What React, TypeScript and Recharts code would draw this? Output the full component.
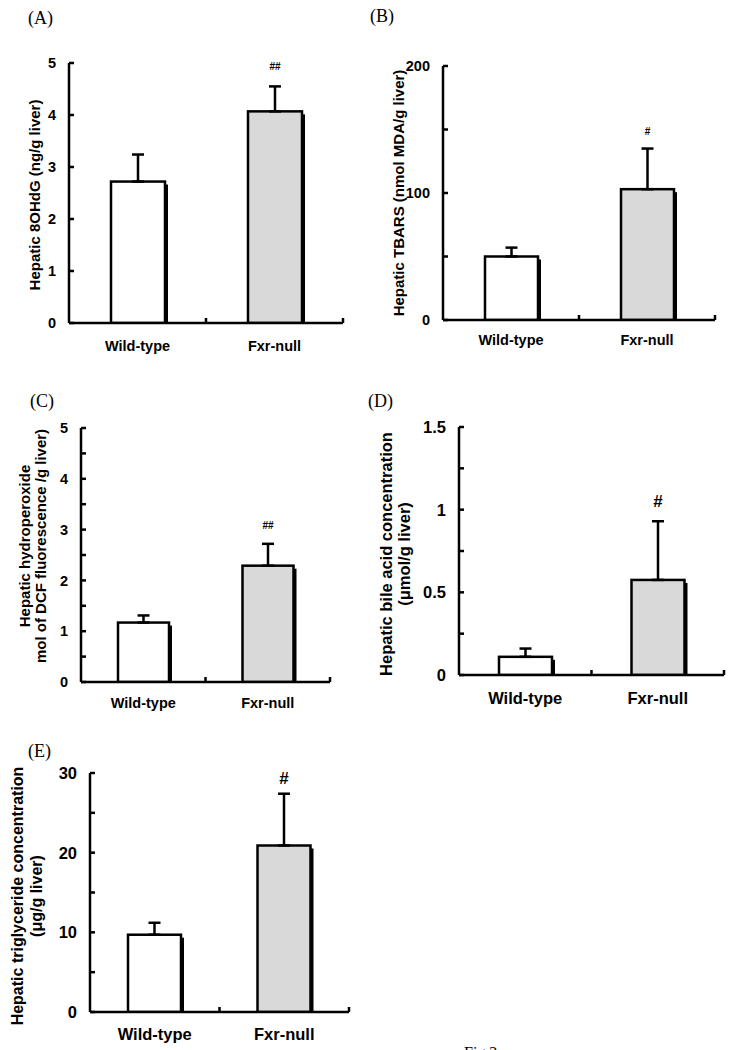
import React from "react";
import { Bar, BarChart, Cell, ErrorBar, LabelList, XAxis, YAxis } from "recharts";

const groups = ["Wild-type", "Fxr-null"];

// (A) hepatic 8OHdG
const ohdgMean = [2.72, 4.07];
const ohdgErr = [0.52, 0.48];
const ohdgSig = ["", "##"];
const ohdgTicks = [0, 1, 2, 3, 4, 5];
const ohdgLabels = [0, 1, 2, 3, 4, 5];

// (B) hepatic TBARS
const tbarsMean = [50, 103];
const tbarsErr = [7, 32];
const tbarsSig = ["", "#"];
const tbarsTicks = [0, 50, 100, 150, 200];
const tbarsLabels = [0, 100, 200];

// (C) hepatic hydroperoxide
const hydroMean = [1.17, 2.29];
const hydroErr = [0.14, 0.43];
const hydroSig = ["", "##"];
const hydroTicks = [0, 0.5, 1, 1.5, 2, 2.5, 3, 3.5, 4, 4.5, 5];
const hydroLabels = [0, 1, 2, 3, 4, 5];

// (D) hepatic bile acid
const bileMean = [0.11, 0.575];
const bileErr = [0.05, 0.355];
const bileSig = ["", "#"];
const bileTicks = [0, 0.25, 0.5, 0.75, 1, 1.25, 1.5];
const bileLabels = [0, 0.5, 1, 1.5];

// (E) hepatic triglyceride
const tgMean = [9.7, 20.9];
const tgErr = [1.5, 6.5];
const tgSig = ["", "#"];
const tgTicks = [0, 5, 10, 15, 20, 25, 30];
const tgLabels = [0, 10, 20, 30];

// right edge of each group on the x axis (tick marks between / after the bars)
const groupEdges = [1, 2];

const barFills = ["#ffffff", "#d9d9d9"];
const SANS = "'Liberation Sans', Arial, sans-serif";
const SERIF = "'Liberation Serif', 'Times New Roman', serif";
const axisStroke = { stroke: "#000", strokeWidth: 2.5 };

const ShadowBar = (props: any) => {
  const { x, y, width, height, fill } = props;
  if (!height) return null;
  return (
    <g>
      <rect x={x + 3} y={y + 3} width={width} height={Math.max(height - 3, 0)} fill="#000" />
      <rect x={x} y={y} width={width} height={height} fill={fill} stroke="#000" strokeWidth={2.5} />
    </g>
  );
};

type PanelProps = {
  mean: number[];
  err: number[];
  sig: string[];
  ticks: number[];
  labels: number[];
  colX: number;
  left: number;
  top: number;
  bottom: number;
  right: number;
  barSize: number;
  fs: number;
  xDy: number;
  sigFs: number;
  sigGap: number;
};

function Panel(p: PanelProps) {
  const rows = groups.map((g, i) => ({ group: g, edge: groupEdges[i], mean: p.mean[i], err: [0, p.err[i]] }));
  const mt = 40;
  const mr = 8;
  const xh = 45;
  const cy = p.top - mt;
  const cw = p.right - p.colX + mr;
  const ch = p.bottom - cy + xh;

  // mirrored y axis: t.x sits 5px inside the plot, labels go back outside
  const yTick = (t: any) =>
    p.labels.includes(t.payload.value) ? (
      <text x={t.x - 18} y={t.y} dy="0.36em" textAnchor="end" fontFamily={SANS} fontWeight="bold" fontSize={p.fs} fill="#000">
        {t.payload.value}
      </text>
    ) : (
      <g />
    );

  const xTick = (t: any) => (
    <text x={t.x} y={t.y} textAnchor="middle" fontFamily={SANS} fontWeight="bold" fontSize={p.fs} fill="#000">
      {t.payload.value}
    </text>
  );

  const sigLabel = (l: any) => {
    const vb = l.viewBox ?? l;
    const i = typeof l.index === "number" ? l.index : p.mean.indexOf(Number(l.value));
    if (i < 0 || !p.sig[i]) return null;
    const perUnit = vb.height / p.mean[i];
    const errTop = vb.y - p.err[i] * perUnit;
    return (
      <text x={vb.x + vb.width / 2} y={errTop - p.sigGap} textAnchor="middle" fontFamily={SANS} fontWeight="bold" fontSize={p.sigFs} fill="#000">
        {p.sig[i]}
      </text>
    );
  };

  return (
    <div style={{ position: "absolute", left: p.colX, top: cy }}>
      <BarChart width={cw} height={ch} data={rows} margin={{ top: mt, right: mr, left: p.left - p.colX, bottom: 0 }}>
        <XAxis
          xAxisId="edge"
          dataKey="edge"
          type="number"
          domain={[0, 2]}
          ticks={groupEdges}
          interval={0}
          mirror
          height={5}
          axisLine={false}
          tickLine={axisStroke}
          tickSize={5}
          tickMargin={0}
          tick={() => <g />}
          allowDataOverflow
        />
        <XAxis
          xAxisId="cat"
          dataKey="group"
          height={xh}
          axisLine={axisStroke}
          tickLine={false}
          tickSize={0}
          tickMargin={p.xDy}
          tick={xTick}
          interval={0}
        />
        <YAxis
          mirror
          width={10}
          domain={[0, p.ticks[p.ticks.length - 1]]}
          ticks={p.ticks}
          interval={0}
          axisLine={axisStroke}
          tickLine={axisStroke}
          tickSize={5}
          tickMargin={0}
          tick={yTick}
          allowDataOverflow
        />
        <Bar xAxisId="cat" dataKey="mean" barSize={p.barSize} shape={ShadowBar} isAnimationActive={false}>
          {rows.map((r, i) => (
            <Cell key={r.group} fill={barFills[i]} />
          ))}
          <ErrorBar dataKey="err" direction="y" width={6} strokeWidth={2.5} stroke="#000" />
          <LabelList dataKey="mean" content={sigLabel} />
        </Bar>
      </BarChart>
    </div>
  );
}

const letters = [
  { t: "(A)", x: 28, y: 23.5 },
  { t: "(B)", x: 370, y: 22 },
  { t: "(C)", x: 30, y: 407 },
  { t: "(D)", x: 368, y: 407 },
  { t: "(E)", x: 28, y: 757 },
];

const titles = [
  { lines: ["Hepatic 8OHdG (ng/g liver)"], xs: [35], y: 195, fs: 15 },
  { lines: ["Hepatic TBARS (nmol MDA/g liver)"], xs: [399], y: 193, fs: 15 },
  { lines: ["Hepatic hydroperoxide", "mol of DCF fluorescence /g liver)"], xs: [25.5, 41.5], y: 546, fs: 15 },
  { lines: ["Hepatic bile acid concentration", "(μmol/g liver)"], xs: [387, 405], y: 554, fs: 16.5 },
  { lines: ["Hepatic triglyceride concentration", "(μg/g liver)"], xs: [18.5, 37], y: 896, fs: 16 },
];

export default function App() {
  return (
    <div style={{ position: "absolute", left: 0, top: 0, width: 734, height: 1050, overflow: "hidden", background: "#fff" }}>
      <Panel mean={ohdgMean} err={ohdgErr} sig={ohdgSig} ticks={ohdgTicks} labels={ohdgLabels}
        colX={0} left={69} top={63} bottom={323} right={343} barSize={54} fs={14.5} xDy={28} sigFs={10} sigGap={16} />
      <Panel mean={tbarsMean} err={tbarsErr} sig={tbarsSig} ticks={tbarsTicks} labels={tbarsLabels}
        colX={367} left={443} top={66} bottom={320} right={715} barSize={53} fs={14.5} xDy={25} sigFs={10} sigGap={14} />
      <Panel mean={hydroMean} err={hydroErr} sig={hydroSig} ticks={hydroTicks} labels={hydroLabels}
        colX={0} left={81} top={428} bottom={682} right={330} barSize={51} fs={14.5} xDy={26} sigFs={10} sigGap={15} />
      <Panel mean={bileMean} err={bileErr} sig={bileSig} ticks={bileTicks} labels={bileLabels}
        colX={367} left={459} top={427} bottom={675} right={724} barSize={53} fs={16.5} xDy={29} sigFs={17} sigGap={14} />
      <Panel mean={tgMean} err={tgErr} sig={tgSig} ticks={tgTicks} labels={tgLabels}
        colX={0} left={90} top={773} bottom={1012} right={349} barSize={53} fs={16.5} xDy={28} sigFs={17} sigGap={10} />
      <svg width={734} height={1050} style={{ position: "absolute", left: 0, top: 0, pointerEvents: "none" }}>
        {letters.map((l) => (
          <text key={l.t} x={l.x} y={l.y} fontFamily={SERIF} fontSize={18} fill="#000">
            {l.t}
          </text>
        ))}
        {titles.map((t) =>
          t.lines.map((line, i) => (
            <text
              key={line}
              x={t.xs[i]}
              y={t.y}
              dy="0.3em"
              transform={`rotate(-90 ${t.xs[i]} ${t.y})`}
              textAnchor="middle"
              fontFamily={SANS}
              fontWeight="bold"
              fontSize={t.fs}
              fill="#000"
            >
              {line}
            </text>
          ))
        )}
        <text x={464} y={1058} fontFamily={SERIF} fontSize={16} fill="#000">
          Fig.2
        </text>
      </svg>
    </div>
  );
}
